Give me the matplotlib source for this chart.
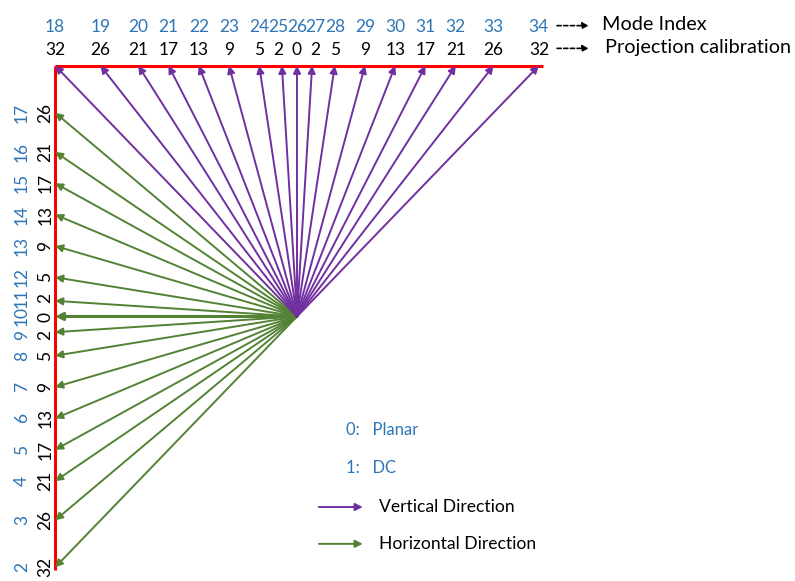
import matplotlib
import matplotlib.pyplot as plt

matplotlib.use("Agg")

plt.rcParams["font.family"] = ["Lato", "DejaVu Sans"]

# vertical modes along the top edge (left to right) and their signed displacement
top_modes = [18, 19, 20, 21, 22, 23, 24, 25, 26, 27, 28, 29, 30, 31, 32, 33, 34]
top_offsets = [-32, -26, -21, -17, -13, -9, -5, -2, 0, 2, 5, 9, 13, 17, 21, 26, 32]

# horizontal modes along the left edge (bottom to top) and their signed displacement
left_modes = [2, 3, 4, 5, 6, 7, 8, 9, 10, 11, 12, 13, 14, 15, 16, 17]
left_offsets = [-32, -26, -21, -17, -13, -9, -5, -2, 0, 2, 5, 9, 13, 17, 21, 26]

purple = "#7030A0"
green = "#548235"
blue = "#2E75B6"

# pixel scale of one displacement unit, origin at pixel (297, 316.5)
sx, sy = 7.56, 7.84
W, H = 795, 581
ox, oy = 297, 316.5

fig = plt.figure(figsize=(W / 100, H / 100), dpi=100)
ax = fig.add_axes([0, 0, 1, 1])
ax.set_xlim(-ox / sx, (W - ox) / sx)
ax.set_ylim(-(H - oy) / sy, oy / sy)
ax.axis("off")


def spread(vals, gap):
    # push label positions outward from 0 so neighbours keep a minimum gap
    out = list(vals)
    i0 = out.index(0)
    for i in range(i0 + 1, len(out)):
        out[i] = max(out[i], out[i - 1] + gap)
    for i in range(i0 - 1, -1, -1):
        out[i] = min(out[i], out[i + 1] - gap)
    return out


# red reference edges
ax.plot([-32, 32.6], [32, 32], color="red", lw=2.2, solid_capstyle="butt", zorder=3)
ax.plot([-32, -32], [32, -32.3], color="red", lw=2.2, solid_capstyle="butt", zorder=3)


def arrow(x0, y0, x1, y1, color, lw=1.4):
    ax.annotate("", xy=(x1, y1), xytext=(x0, y0),
                arrowprops=dict(arrowstyle="-|>", color=color, lw=lw,
                                mutation_scale=11, shrinkA=0, shrinkB=0),
                zorder=4)


left_pos = spread(left_offsets, 2.35)
for m, d, p in zip(left_modes, left_offsets, left_pos):
    arrow(0, 0, -32, d, green, lw=2.2 if d == 0 else 1.4)
    ax.text(-36.4, p, str(m), color=blue, fontsize=12.5, rotation=90,
            ha="center", va="center")
    ax.text(-33.3, p, str(abs(d)), color="black", fontsize=12.5, rotation=90,
            ha="center", va="center")

top_pos = spread(top_offsets, 2.45)
for m, d, p in zip(top_modes, top_offsets, top_pos):
    arrow(0, 0, d, 32, purple)
    ax.text(p, 36.9, str(m), color=blue, fontsize=12.5, ha="center", va="center")
    ax.text(p, 34.0, str(abs(d)), color="black", fontsize=12.5, ha="center", va="center")

# row descriptions on the right
for yv, label, tx in [(36.9, "Mode Index", 40.3), (34.0, "Projection calibration", 40.7)]:
    ax.annotate("", xy=(38.6, yv + 0.2), xytext=(34.4, yv + 0.2),
                arrowprops=dict(arrowstyle="-|>", color="black", lw=1.2,
                                linestyle=(0, (2.5, 1.5)), mutation_scale=9,
                                shrinkA=0, shrinkB=0))
    ax.text(tx, yv + 0.3, label, color="black", fontsize=14.3, ha="left", va="center")

# legend
ax.text(6.5, -14.5, "0:   Planar", color=blue, fontsize=12, ha="left", va="center")
ax.text(6.5, -19.3, "1:   DC", color=blue, fontsize=12, ha="left", va="center")
arrow(2.9, -24.3, 8.7, -24.3, purple)
ax.text(10.9, -24.3, "Vertical Direction", color="black", fontsize=12.6, ha="left", va="center")
arrow(2.9, -29.0, 8.7, -29.0, green)
ax.text(10.9, -29.0, "Horizontal Direction", color="black", fontsize=12.6, ha="left", va="center")

fig.savefig("out.png", dpi=100)
plt.close(fig)
